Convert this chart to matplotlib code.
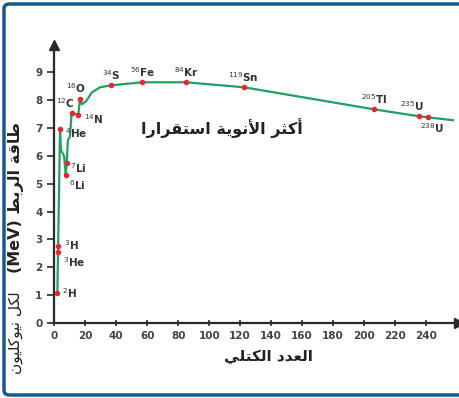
import matplotlib
matplotlib.use('Agg')
import matplotlib.pyplot as plt
from matplotlib.patches import FancyBboxPatch

# binding energy curve (mass number, MeV per nucleon)
curve_A = [2, 2.4, 3.7, 4.3, 6.3, 7.4, 8.0, 8.8, 10.1, 11.2, 15.5, 16.6, 17.9,
           20.5, 24.3, 29.5, 36.6, 56.6, 85, 122.5, 206.4, 235.4, 241.2, 257.4]
curve_E = [1.08, 2.55, 6.95, 6.2, 6.0, 5.33, 5.75, 6.56, 6.7, 7.54, 7.47, 8.03, 7.85,
           7.96, 8.28, 8.46, 8.53, 8.64, 8.64, 8.46, 7.67, 7.42, 7.38, 7.28]

# labelled nuclei
nuc_labels = ['$^{2}$H', '$^{3}$H', '$^{3}$He', '$^{4}$He', '$^{6}$Li', '$^{7}$Li',
              '$^{12}$C', '$^{14}$N', '$^{16}$O', '$^{34}$S', '$^{56}$Fe', '$^{84}$Kr',
              '$^{119}$Sn', '$^{205}$Tl', '$^{235}$U', '$^{238}$U']
nuc_A = [2, 2.4, 2.4, 3.7, 7.4, 8.0, 11.2, 15.5, 16.6, 36.6, 56.6, 85, 122.5, 206.4, 235.4, 241.2]
nuc_E = [1.08, 2.76, 2.55, 6.95, 5.33, 5.75, 7.54, 7.47, 8.03, 8.53, 8.64, 8.64, 8.46, 7.67, 7.42, 7.38]
# label placement (offset px, ha, va)
nuc_pos = [(5, 0, 'left', 'center'), (6, 1, 'left', 'center'), (5, -10, 'left', 'center'),
           (5, -4, 'left', 'center'), (3, -11, 'left', 'center'), (3, -5, 'left', 'center'),
           (3, 10, 'right', 'center'), (6, -4, 'left', 'center'), (-4, 4, 'center', 'bottom'),
           (0, 3, 'center', 'bottom'), (1, 3, 'center', 'bottom'), (0, 3, 'center', 'bottom'),
           (-1, 3, 'center', 'bottom'), (0, 3, 'center', 'bottom'), (-7, 3, 'center', 'bottom'),
           (4, -4, 'center', 'top')]

x_ticks = list(range(0, 241, 20))
y_ticks = list(range(0, 10))

title_ar = 'أكثر الأنوية استقرارا'
xlabel_ar = 'العدد الكتلي'
ylabel_ar_top = 'طاقة الربط'
ylabel_ar_bottom = 'لكل نيوكليون'

# simple arabic shaping (matplotlib has no complex text layout)
FORMS = {
    'ا': ('\uFE8D', '\uFE8E', None, None), 'أ': ('\uFE83', '\uFE84', None, None),
    'ب': ('\uFE8F', '\uFE90', '\uFE91', '\uFE92'), 'ة': ('\uFE93', '\uFE94', None, None),
    'ت': ('\uFE95', '\uFE96', '\uFE97', '\uFE98'), 'ث': ('\uFE99', '\uFE9A', '\uFE9B', '\uFE9C'),
    'د': ('\uFEA9', '\uFEAA', None, None), 'ر': ('\uFEAD', '\uFEAE', None, None),
    'س': ('\uFEB1', '\uFEB2', '\uFEB3', '\uFEB4'), 'ط': ('\uFEC1', '\uFEC2', '\uFEC3', '\uFEC4'),
    'ع': ('\uFEC9', '\uFECA', '\uFECB', '\uFECC'), 'ق': ('\uFED5', '\uFED6', '\uFED7', '\uFED8'),
    'ك': ('\uFED9', '\uFEDA', '\uFEDB', '\uFEDC'), 'ل': ('\uFEDD', '\uFEDE', '\uFEDF', '\uFEE0'),
    'ن': ('\uFEE5', '\uFEE6', '\uFEE7', '\uFEE8'), 'و': ('\uFEED', '\uFEEE', None, None),
    'ي': ('\uFEF1', '\uFEF2', '\uFEF3', '\uFEF4'),
}
LAMALEF = {'ا': ('\uFEFB', '\uFEFC'), 'أ': ('\uFEF7', '\uFEF8')}


def shape(text):
    res = []
    prev = False
    i = 0
    while i < len(text):
        c = text[i]
        if c not in FORMS:
            res.append(c)
            prev = False
            i += 1
            continue
        if c == 'ل' and i + 1 < len(text) and text[i + 1] in LAMALEF:
            iso, fin = LAMALEF[text[i + 1]]
            res.append(fin if prev else iso)
            prev = False
            i += 2
            continue
        iso, fin, ini, med = FORMS[c]
        nxt = ini is not None and i + 1 < len(text) and text[i + 1] in FORMS
        if prev and nxt:
            res.append(med)
        elif prev:
            res.append(fin)
        elif nxt:
            res.append(ini)
        else:
            res.append(iso)
        prev = ini is not None
        i += 1
    return ''.join(reversed(res))


W, H = 460, 398
fig = plt.figure(figsize=(W / 100, H / 100), dpi=100)
ax = fig.add_axes([54.3 / W, (H - 323) / H, (459 - 54.3) / W, (323 - 45) / H])

green = '#1ea062'
red = '#e8262e'
axcol = '#2a2a2a'

ax.plot(curve_A, curve_E, color=green, lw=1.6, zorder=2)
ax.plot(nuc_A, nuc_E, 'o', color=red, ms=4, mec='none', zorder=3)
for lab, a, e, (dx, dy, ha, va) in zip(nuc_labels, nuc_A, nuc_E, nuc_pos):
    ax.annotate(lab, (a, e), xytext=(dx, dy), textcoords='offset pixels',
                ha=ha, va=va, fontsize=7.5, fontweight='bold', color='#333333')

ax.set_xlim(0, (459 - 54.3) / 1.549)
ax.set_ylim(0, (323 - 45) / 27.86)
ax.set_xticks(x_ticks)
ax.set_yticks(y_ticks)
ax.tick_params(axis='x', direction='inout', length=5, width=1.2, colors=axcol,
               labelsize=7.5, labelcolor='#444444')
ax.tick_params(axis='y', direction='out', length=5, width=1.2, colors=axcol,
               labelsize=7.5, labelcolor='#444444')
for t in ax.get_xticklabels() + ax.get_yticklabels():
    t.set_fontweight('bold')
for s in ['top', 'right']:
    ax.spines[s].set_visible(False)
for s in ['left', 'bottom']:
    ax.spines[s].set_linewidth(1.6)
    ax.spines[s].set_color(axcol)
ax.plot(1, 0, '>', color=axcol, ms=7, transform=ax.transAxes, clip_on=False)
ax.plot(0, 1, '^', color=axcol, ms=7, transform=ax.transAxes, clip_on=False)

ax.text(108, 7.0, shape(title_ar), ha='center', va='center', fontsize=11.5,
        fontweight='bold', color='#222222')
fig.text(268 / W, (H - 357) / H, shape(xlabel_ar), ha='center', va='center',
         fontsize=11, fontweight='bold', color='#222222')
fig.text(16 / W, (H - 374) / H, shape(ylabel_ar_bottom), rotation=90, ha='center',
         va='bottom', fontsize=11, color='#222222')
fig.text(16 / W, (H - 122) / H, '(MeV) ' + shape(ylabel_ar_top), rotation=90,
         ha='center', va='top', fontsize=11.5, fontweight='bold', color='#222222')

border = FancyBboxPatch((4 / W, 3 / H), 470 / W, (H - 7) / H,
                        boxstyle='round,pad=0,rounding_size=0.012',
                        transform=fig.transFigure, fill=False, ec='#145a8a', lw=2.5)
fig.patches.append(border)

fig.savefig('out.png', dpi=100)
